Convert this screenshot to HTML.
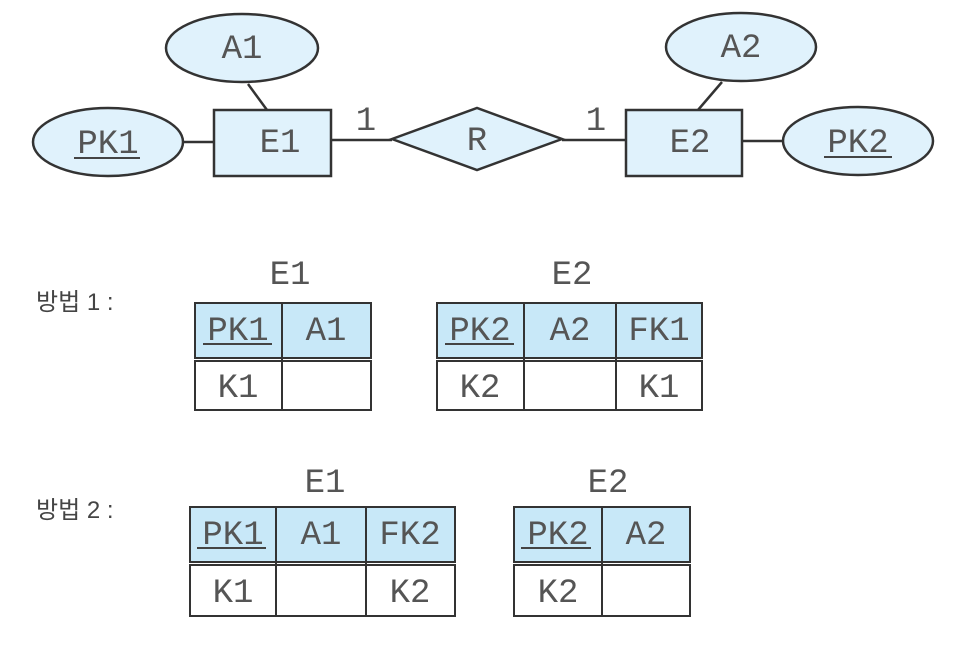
<!DOCTYPE html>
<html><head><meta charset="utf-8"><style>
html,body{margin:0;padding:0;background:#fff;width:970px;height:649px;overflow:hidden}
svg{display:block}
text{font-family:"Liberation Mono",monospace;font-size:34px;fill:#555;text-anchor:middle}
.k{font-family:"Liberation Sans","Noto Sans CJK KR","NanumGothic",sans-serif;font-size:24px;fill:#444;text-anchor:start}
</style></head><body>
<svg width="970" height="649" viewBox="0 0 970 649" xmlns="http://www.w3.org/2000/svg">
<g stroke="#333" stroke-width="2.5" fill="#e0f2fc">
<line x1="183" y1="142" x2="214" y2="142"/>
<line x1="248" y1="84" x2="267" y2="110"/>
<line x1="331" y1="140" x2="392" y2="140"/>
<line x1="562" y1="140" x2="626" y2="140"/>
<line x1="722" y1="82" x2="698" y2="110"/>
<line x1="742" y1="141" x2="783" y2="141"/>
<ellipse cx="108" cy="142" rx="75" ry="34"/>
<ellipse cx="242" cy="48" rx="76" ry="34"/>
<ellipse cx="741" cy="47" rx="75" ry="34"/>
<ellipse cx="858" cy="141" rx="75" ry="34"/>
<rect x="214" y="110" width="117" height="66"/>
<rect x="626" y="110" width="116" height="66"/>
<polygon points="392,139 477,108 562,139 477,170"/>
</g>
<text x="108" y="153">PK1</text><line x1="74" y1="158" x2="140" y2="158" stroke="#444" stroke-width="2"/>
<text x="242" y="58">A1</text>
<text x="280" y="152">E1</text>
<text x="366" y="130">1</text>
<text x="477" y="150">R</text>
<text x="596" y="130">1</text>
<text x="690" y="152">E2</text>
<text x="741" y="57">A2</text>
<text x="858" y="152">PK2</text><line x1="824" y1="157" x2="892" y2="157" stroke="#444" stroke-width="2"/>

<text class="k" x="36" y="310">방법 1 :</text>
<text class="k" x="36" y="518">방법 2 :</text>

<text x="290" y="284">E1</text>
<text x="572" y="284">E2</text>
<text x="325" y="492">E1</text>
<text x="608" y="492">E2</text>

<!-- tables -->
<g stroke="#333" stroke-width="2">
<rect x="195" y="303" width="176" height="55" fill="#c8e8f8"/>
<rect x="195" y="361" width="176" height="49" fill="#fff"/>
<line x1="282" y1="303" x2="282" y2="410"/>
<rect x="437" y="303" width="265" height="55" fill="#c8e8f8"/>
<rect x="437" y="361" width="265" height="49" fill="#fff"/>
<line x1="524" y1="303" x2="524" y2="410"/>
<line x1="616" y1="303" x2="616" y2="410"/>
<rect x="190" y="507" width="265" height="55" fill="#c8e8f8"/>
<rect x="190" y="565" width="265" height="51" fill="#fff"/>
<line x1="276" y1="507" x2="276" y2="616"/>
<line x1="366" y1="507" x2="366" y2="616"/>
<rect x="514" y="507" width="176" height="55" fill="#c8e8f8"/>
<rect x="514" y="565" width="176" height="51" fill="#fff"/>
<line x1="602" y1="507" x2="602" y2="616"/>
</g>
<g stroke="#444" stroke-width="2">
<line x1="203" y1="344" x2="272" y2="344"/>
<line x1="445" y1="344" x2="514" y2="344"/>
<line x1="197" y1="548" x2="266" y2="548"/>
<line x1="521" y1="548" x2="591" y2="548"/>
</g>
<text x="238" y="340">PK1</text><text x="326" y="340">A1</text>
<text x="238" y="397">K1</text>
<text x="480" y="340">PK2</text><text x="570" y="340">A2</text><text x="659" y="340">FK1</text>
<text x="480" y="397">K2</text><text x="659" y="397">K1</text>
<text x="233" y="544">PK1</text><text x="321" y="544">A1</text><text x="410" y="544">FK2</text>
<text x="233" y="602">K1</text><text x="410" y="602">K2</text>
<text x="558" y="544">PK2</text><text x="646" y="544">A2</text>
<text x="558" y="602">K2</text>
</svg>
</body></html>
